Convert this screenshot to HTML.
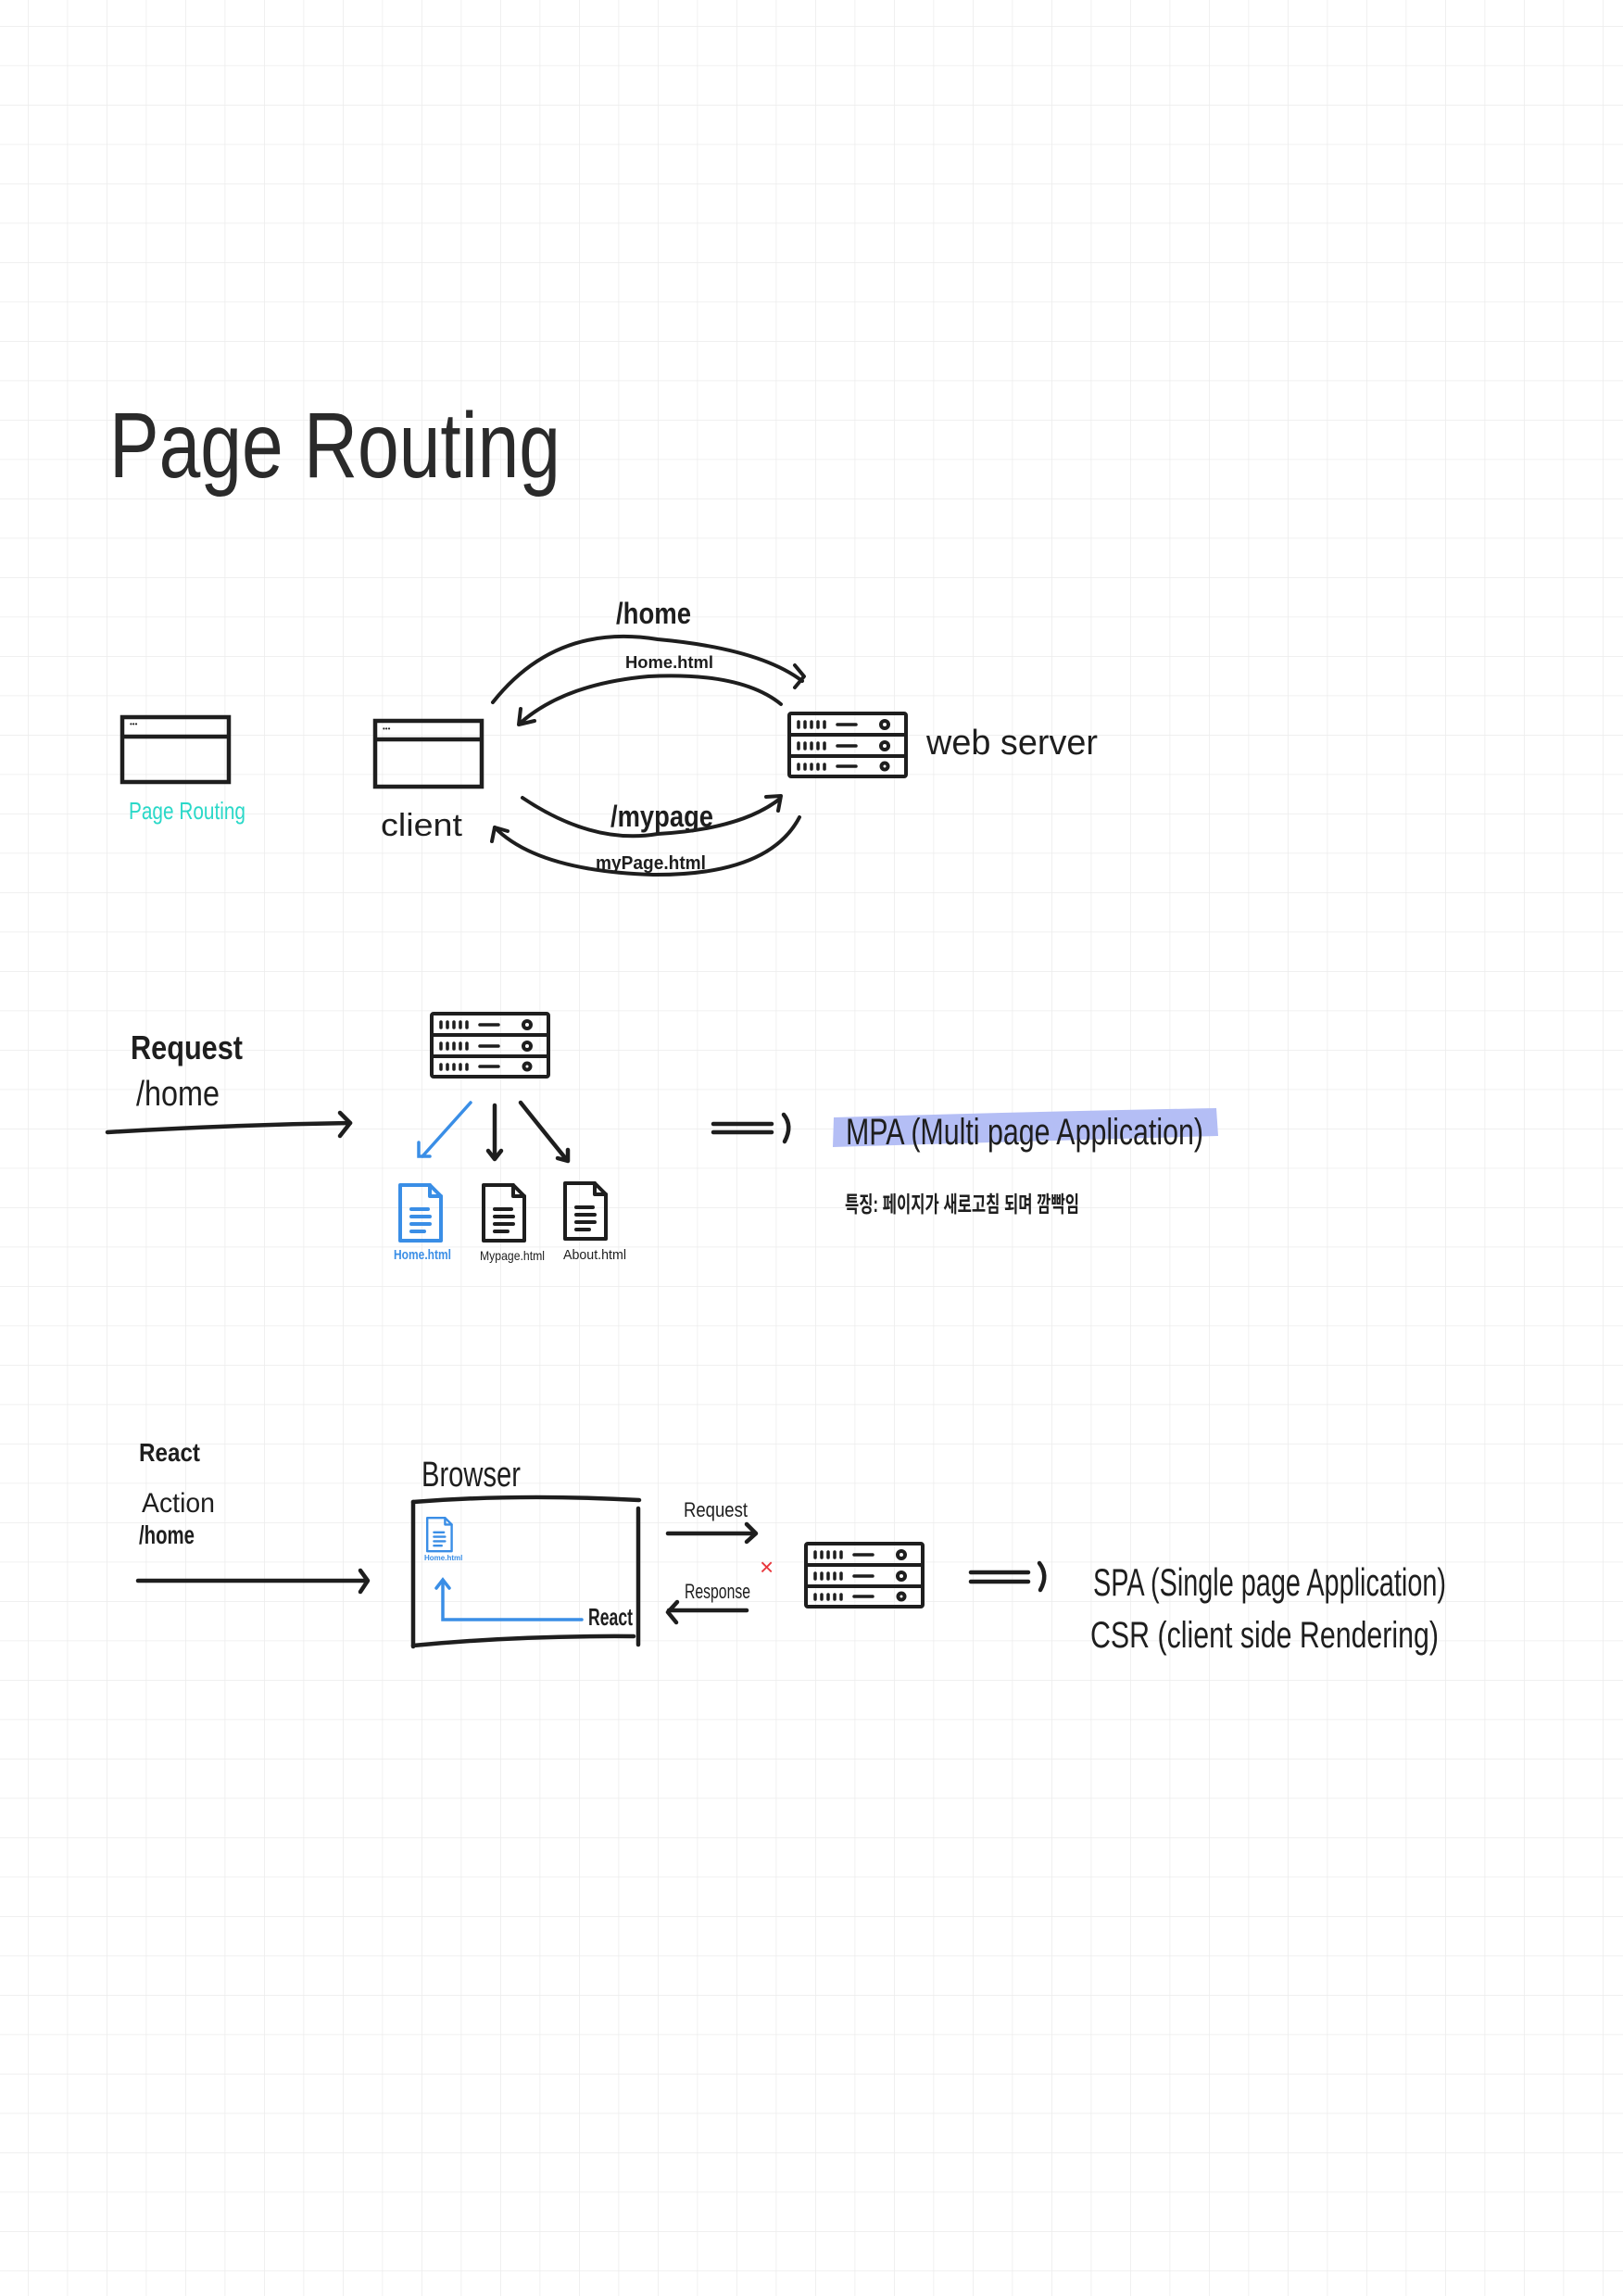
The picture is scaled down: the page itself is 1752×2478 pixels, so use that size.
<!DOCTYPE html>
<html><head><meta charset="utf-8"><style>
html,body{margin:0;padding:0;background:#fff}
svg{display:block}
text{font-family:"Liberation Sans","Noto Sans CJK KR",sans-serif;fill:#1e1e1e}
</style></head><body>
<svg width="1752" height="2478" viewBox="0 0 1752 2478" xmlns="http://www.w3.org/2000/svg">
<defs>
<pattern id="g" x="30" y="28" width="42.5" height="42.5" patternUnits="userSpaceOnUse">
<path d="M0 0H42.5M0 0V42.5" stroke="#ececec" stroke-width="1.5" fill="none"/>
</pattern>
<g id="srv" fill="none" stroke="#1e1e1e" stroke-width="4" stroke-linecap="round">
<rect x="0" y="0" width="126" height="68" rx="2"/>
<line x1="0" y1="23" x2="126" y2="23"/><line x1="0" y1="46" x2="126" y2="46"/>
<g stroke-width="3.5">
<path d="M10 9v6M17 9v6M24 9v6M31 9v6M38 9v6M52 12h20"/>
<path d="M10 32v6M17 32v6M24 32v6M31 32v6M38 32v6M52 35h20"/>
<path d="M10 55v5M17 55v5M24 55v5M31 55v5M38 55v5M52 57h20"/>
</g>
<circle cx="103" cy="12" r="4"/><circle cx="103" cy="35" r="4"/><circle cx="103" cy="57" r="3.5"/>
</g>
<g id="doc" fill="none" stroke-width="4" stroke-linejoin="round" stroke-linecap="round">
<path d="M2 2H34L46 14V62H2Z"/><path d="M34 2V14H46"/>
<path d="M14 28H32M14 36H34M14 44H34M14 52H28"/>
</g>
</defs>
<rect width="1752" height="2478" fill="#fff"/>
<rect width="1752" height="2478" fill="url(#g)"/>

<text x="118" y="515" font-size="100" textLength="487" lengthAdjust="spacingAndGlyphs" style="fill:#2a2a2a">Page Routing</text>

<g fill="none" stroke="#1e1e1e" stroke-width="4.5">
<rect x="132" y="774" width="115" height="70"/><line x1="132" y1="795" x2="247" y2="795"/>
<rect x="405" y="778" width="115" height="71"/><line x1="405" y1="798" x2="520" y2="798"/>
</g>
<text x="140" y="784" font-size="8">•••</text>
<text x="413" y="789" font-size="8">•••</text>
<text x="139" y="884" font-size="26" textLength="126" lengthAdjust="spacingAndGlyphs" style="fill:#2ad8c8">Page Routing</text>
<text x="411" y="902" font-size="34" textLength="88" lengthAdjust="spacingAndGlyphs">client</text>

<use href="#srv" x="852" y="770"/>
<text x="1000" y="814" font-size="38" textLength="185" lengthAdjust="spacingAndGlyphs">web server</text>

<g fill="none" stroke="#1e1e1e" stroke-width="4" stroke-linecap="round" stroke-linejoin="round">
<path d="M532 758 Q600 672 710 690 Q820 700 866 735"/><path d="M858 718 L868 730 L858 742"/>
<path d="M843 760 Q800 725 700 730 Q610 738 562 780"/><path d="M562 765 L560 782 L577 778"/>
<path d="M564 861 Q640 912 710 900 Q800 895 842 862"/><path d="M827 860 L843 859 L840 875"/>
<path d="M863 882 Q830 945 705 944 Q580 940 534 893"/><path d="M531 908 L534 893 L548 897"/>
</g>
<text x="665" y="673" font-size="32" textLength="81" lengthAdjust="spacingAndGlyphs" style="font-weight:bold">/home</text>
<text x="675" y="721" font-size="18" textLength="95" lengthAdjust="spacingAndGlyphs" style="font-weight:bold">Home.html</text>
<text x="659" y="892" font-size="32" textLength="111" lengthAdjust="spacingAndGlyphs" style="font-weight:bold">/mypage</text>
<text x="643" y="938" font-size="20" textLength="119" lengthAdjust="spacingAndGlyphs" style="font-weight:bold">myPage.html</text>

<text x="141" y="1143" font-size="36" textLength="121" lengthAdjust="spacingAndGlyphs" style="font-weight:bold">Request</text>
<text x="147" y="1193" font-size="38" textLength="90" lengthAdjust="spacingAndGlyphs">/home</text>
<g fill="none" stroke="#1e1e1e" stroke-width="4.5" stroke-linecap="round" stroke-linejoin="round">
<path d="M116 1222 Q250 1214 378 1212"/><path d="M367 1201 L378 1212 L367 1226"/>
<path d="M534 1193 V1250"/><path d="M527 1242 L534 1251 L541 1242"/>
<path d="M562 1190 Q590 1225 612 1252"/><path d="M602 1250 L613 1253 L613 1241"/>
<path d="M770 1213 H833 M770 1222 H833"/><path d="M846 1203 Q856 1215 847 1232"/>
<path d="M1048 1697 H1110 M1048 1707 H1110"/><path d="M1122 1687 Q1132 1700 1123 1716"/>
</g>
<g fill="none" stroke="#3a8ee6" stroke-width="3.5" stroke-linecap="round">
<path d="M508 1190 L456 1248"/><path d="M452 1233 L452 1248 L464 1248"/>
</g>
<use href="#srv" x="466" y="1094"/>
<use href="#doc" x="430" y="1277" stroke="#3a8ee6"/>
<use href="#doc" x="520" y="1277" stroke="#1e1e1e"/>
<use href="#doc" x="608" y="1275" stroke="#1e1e1e"/>
<text x="425" y="1359" font-size="15" textLength="62" lengthAdjust="spacingAndGlyphs" style="fill:#3a8ee6;font-weight:bold">Home.html</text>
<text x="518" y="1360" font-size="14" textLength="70" lengthAdjust="spacingAndGlyphs">Mypage.html</text>
<text x="608" y="1359" font-size="15" textLength="68" lengthAdjust="spacingAndGlyphs">About.html</text>

<path d="M900 1206 Q1100 1200 1313 1196 L1315 1226 Q1100 1232 899 1238 Z" fill="#b4bef5"/>
<text x="913" y="1235" font-size="40" textLength="386" lengthAdjust="spacingAndGlyphs">MPA (Multi page Application)</text>
<text x="912" y="1308" font-size="24" textLength="253" lengthAdjust="spacingAndGlyphs" style="font-weight:bold">특징: 페이지가 새로고침 되며 깜빡임</text>

<text x="150" y="1577" font-size="28" textLength="66" lengthAdjust="spacingAndGlyphs" style="font-weight:bold">React</text>
<text x="153" y="1632" font-size="30" textLength="79" lengthAdjust="spacingAndGlyphs">Action</text>
<text x="150" y="1666" font-size="28" textLength="60" lengthAdjust="spacingAndGlyphs" style="font-weight:bold">/home</text>
<text x="455" y="1604" font-size="38" textLength="107" lengthAdjust="spacingAndGlyphs">Browser</text>
<g fill="none" stroke="#1e1e1e" stroke-width="4.5" stroke-linecap="round" stroke-linejoin="round">
<path d="M149 1706 H396"/><path d="M389 1695 L397 1706 L389 1718"/>
<path d="M446 1621 Q560 1612 690 1619"/><path d="M446 1621 V1777"/><path d="M689 1628 V1775"/>
<path d="M446 1776 Q560 1765 684 1766"/>
<path d="M721 1655 H815"/><path d="M806 1645 L816 1655 L806 1664"/>
<path d="M806 1738 H722"/><path d="M731 1729 L721 1740 L730 1751"/>
</g>
<use href="#doc" x="460" y="1637" stroke="#3a8ee6" transform="translate(460 1637) scale(0.6) translate(-460 -1637)"/>
<text x="458" y="1684" font-size="8" style="fill:#3a8ee6;font-weight:bold">Home.html</text>
<g fill="none" stroke="#3a8ee6" stroke-width="3.5" stroke-linecap="round">
<path d="M478 1706 V1748 H628"/><path d="M471 1714 L478 1705 L485 1714"/>
</g>
<text x="635" y="1754" font-size="26" textLength="48" lengthAdjust="spacingAndGlyphs" style="font-weight:bold">React</text>
<text x="738" y="1637" font-size="22" textLength="69" lengthAdjust="spacingAndGlyphs">Request</text>
<text x="739" y="1725" font-size="22" textLength="71" lengthAdjust="spacingAndGlyphs">Response</text>
<text x="820" y="1700" font-size="26" style="fill:#e8363b">×</text>
<use href="#srv" x="870" y="1666"/>
<text x="1180" y="1722" font-size="42" textLength="381" lengthAdjust="spacingAndGlyphs">SPA (Single page Application)</text>
<text x="1177" y="1778" font-size="40" textLength="376" lengthAdjust="spacingAndGlyphs">CSR (client side Rendering)</text>
</svg>
</body></html>
